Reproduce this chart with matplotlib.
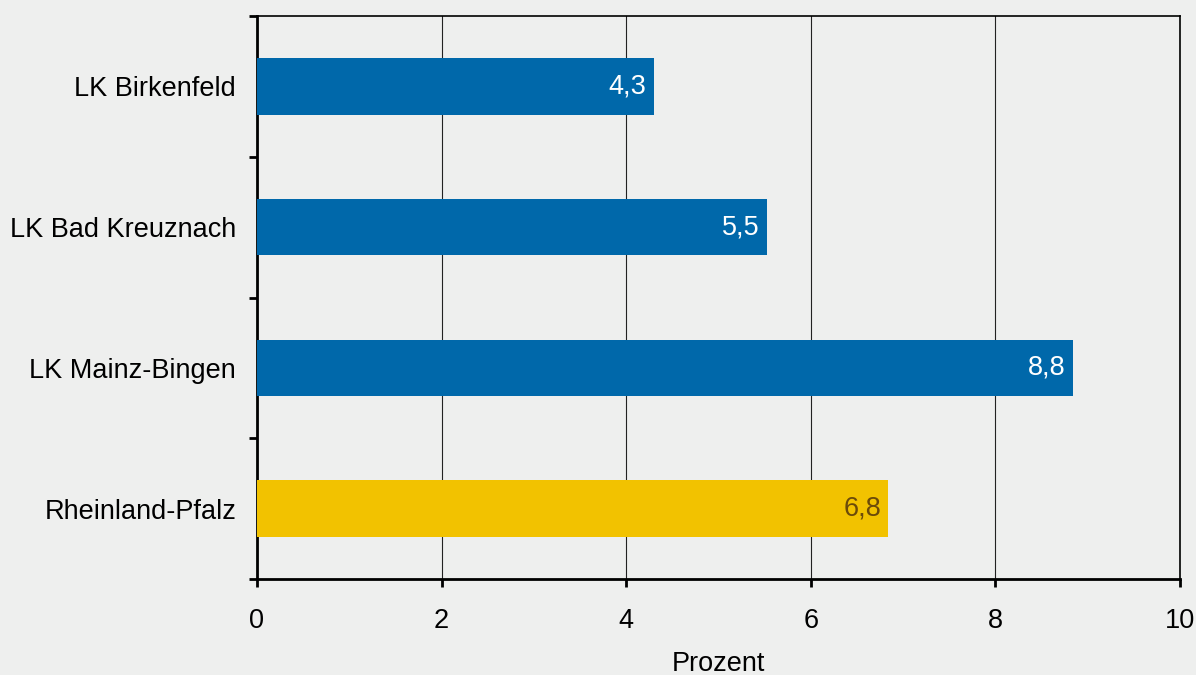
import numpy as np
import matplotlib.pyplot as plt

plt.rcParams['font.family'] = ['Liberation Sans', 'DejaVu Sans']

categories = ['LK Birkenfeld', 'LK Bad Kreuznach', 'LK Mainz-Bingen', 'Rheinland-Pfalz']
values = [4.30, 5.53, 8.84, 6.84]
bar_colors = ['#0068aa', '#0068aa', '#0068aa', '#f2c200']
label_colors = ['white', 'white', 'white', '#6b4a0a']
xticks = [0, 2, 4, 6, 8, 10]

bg = '#eeefee'
fig = plt.figure(figsize=(11.96, 6.75), dpi=100, facecolor=bg)
ax = fig.add_axes([257/1196, 96/675, 923/1196, 563/675], facecolor=bg)

y = np.arange(len(categories))
ax.barh(y, values, height=0.4, color=bar_colors, zorder=3)

for yi, v, c in zip(y, values, label_colors):
    ax.text(v - 0.08, yi, ('%.1f' % v).replace('.', ','), ha='right', va='center',
            color=c, fontsize=19.5, zorder=4)

ax.set_xlim(0, 10)
ax.set_ylim(len(categories) - 0.5, -0.5)
ax.set_xticks(xticks)
ax.set_xticklabels([str(t) for t in xticks], fontsize=19.5)
ax.set_yticks(y)
ax.set_yticklabels(categories, fontsize=19.5)
ax.set_yticks(np.arange(-0.5, len(categories)), minor=True)

ax.tick_params(axis='y', which='major', length=0, pad=15)
ax.tick_params(axis='y', which='minor', length=6, width=2, direction='out')
ax.tick_params(axis='x', which='major', length=6, width=2, direction='out', pad=15)

ax.grid(axis='x', color='#222222', linewidth=0.8, zorder=0)

for side in ['left', 'bottom']:
    ax.spines[side].set_linewidth(2)
for side in ['top', 'right']:
    ax.spines[side].set_linewidth(1.2)

ax.set_xlabel('Prozent', fontsize=19.5, labelpad=12)

fig.savefig('out.png', dpi=100, facecolor=bg)
